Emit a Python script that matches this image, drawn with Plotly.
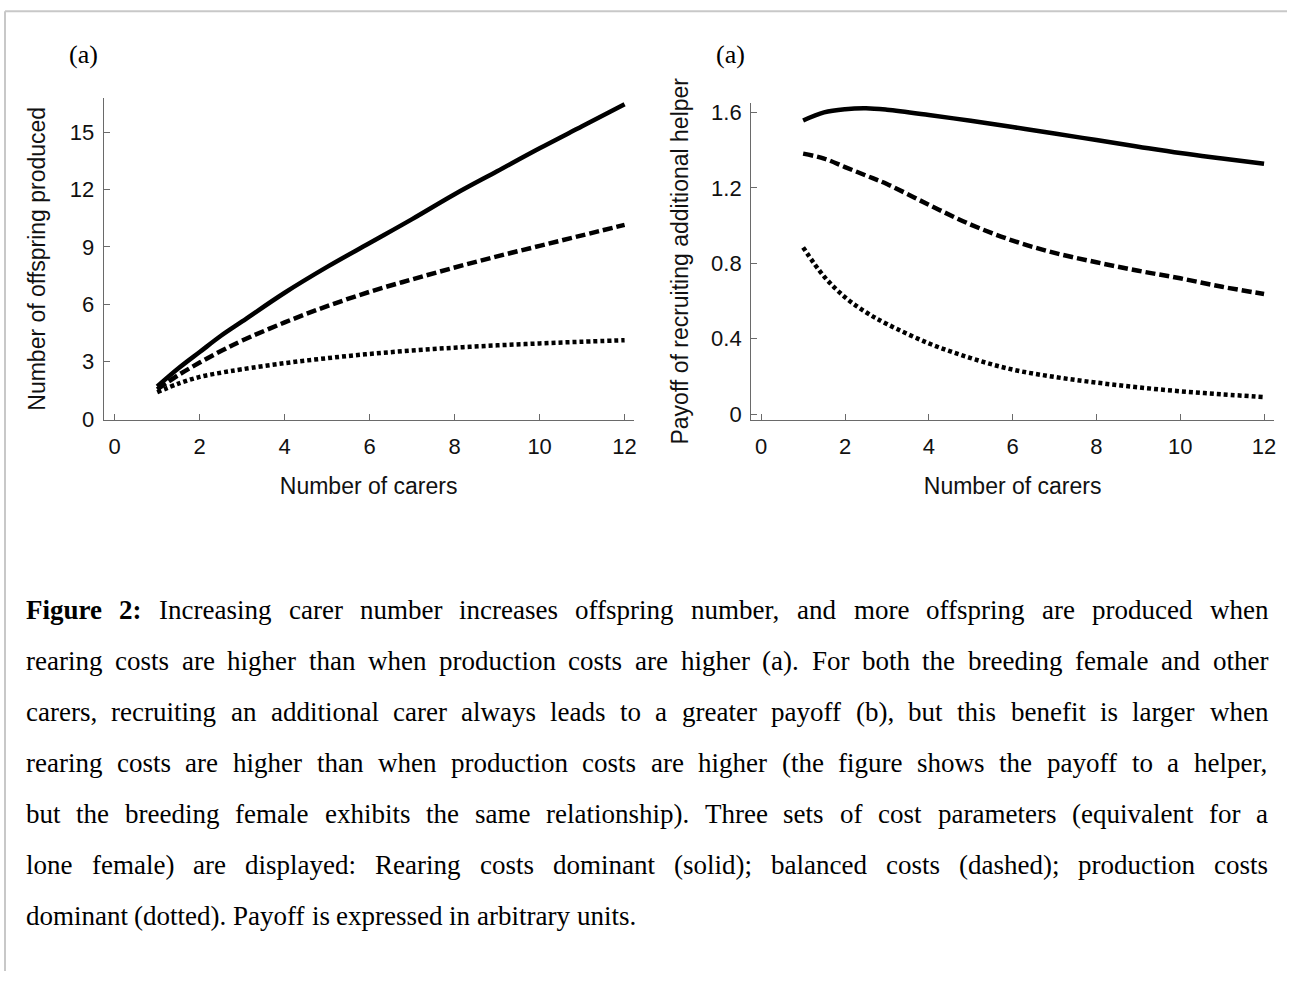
import plotly.graph_objects as go

# ---------------- data ----------------
carers = [1, 1.5, 2, 2.5, 3, 4, 5, 6, 7, 8, 9, 10, 11, 12]

offspring_rearing = [1.70, 2.65, 3.5, 4.35, 5.1, 6.6, 7.95, 9.2, 10.45, 11.75, 12.95, 14.15, 15.3, 16.45]
offspring_balanced = [1.55, 2.3, 2.95, 3.55, 4.1, 5.05, 5.9, 6.65, 7.3, 7.92, 8.5, 9.05, 9.6, 10.15]
offspring_production = [1.4, 1.85, 2.2, 2.42, 2.6, 2.92, 3.18, 3.4, 3.58, 3.73, 3.85, 3.95, 4.04, 4.12]

payoff_rearing = [1.557, 1.60, 1.617, 1.622, 1.614, 1.586, 1.555, 1.522, 1.488, 1.453, 1.418, 1.384, 1.355, 1.327]
payoff_balanced = [1.381, 1.355, 1.31, 1.265, 1.22, 1.11, 1.005, 0.92, 0.855, 0.805, 0.76, 0.72, 0.675, 0.637]
payoff_production = [0.884, 0.73, 0.62, 0.54, 0.478, 0.375, 0.297, 0.236, 0.197, 0.167, 0.142, 0.121, 0.105, 0.09]

x_ticks = [0, 2, 4, 6, 8, 10, 12]
left_y_ticks = [0, 3, 6, 9, 12, 15]
right_y_ticks = [0, 0.4, 0.8, 1.2, 1.6]
right_y_labels = ["0", "0.4", "0.8", "1.2", "1.6"]

panel_labels = ["(a)", "(a)"]
x_title = "Number of carers"
left_y_title = "Number of offspring produced"
right_y_title = "Payoff of recruiting additional helper"

caption_bold = "Figure 2:"
caption_lines = [
    "Figure 2: Increasing carer number increases offspring number, and more offspring are produced when",
    "rearing costs are higher than when production costs are higher (a). For both the breeding female and other",
    "carers, recruiting an additional carer always leads to a greater payoff (b), but this benefit is larger when",
    "rearing costs are higher than when production costs are higher (the figure shows the payoff to a helper,",
    "but the breeding female exhibits the same relationship). Three sets of cost parameters (equivalent for a",
    "lone female) are displayed: Rearing costs dominant (solid); balanced costs (dashed); production costs",
    "dominant (dotted). Payoff is expressed in arbitrary units.",
]

# ---------------- layout constants ----------------
W, H = 1290, 983
def px(x):
    return x / W
def py(y):
    return 1 - y / H

SANS = "Liberation Sans, Arial, sans-serif"
SERIF = "Liberation Serif, Times New Roman, serif"
AXIS_COLOR = "#6a6a6a"

fig = go.Figure()

styles = [dict(dash="solid"), dict(dash="10px,4px"), dict(dash="4px,3px")]
left_series = [offspring_rearing, offspring_balanced, offspring_production]
right_series = [payoff_rearing, payoff_balanced, payoff_production]
for ys, st in zip(left_series, styles):
    fig.add_trace(go.Scatter(x=carers, y=ys, mode="lines", xaxis="x", yaxis="y",
                             line=dict(color="black", width=4.5, shape="spline", smoothing=1.0, **st),
                             showlegend=False, hoverinfo="skip"))
for ys, st in zip(right_series, styles):
    fig.add_trace(go.Scatter(x=carers, y=ys, mode="lines", xaxis="x2", yaxis="y2",
                             line=dict(color="black", width=4.5, shape="spline", smoothing=1.0, **st),
                             showlegend=False, hoverinfo="skip"))

common_axis = dict(showline=True, linecolor=AXIS_COLOR, linewidth=1.3, showgrid=False, zeroline=False,
                   ticks="inside", ticklen=6, tickwidth=1, tickcolor=AXIS_COLOR,
                   tickfont=dict(family=SANS, size=22, color="#111"), mirror=False)

fig.update_layout(
    width=W, height=H,
    margin=dict(l=0, r=0, t=0, b=0),
    paper_bgcolor="white", plot_bgcolor="white",
    xaxis=dict(domain=[px(104), px(635)], range=[-0.258, 12.21], tickvals=x_ticks,
               anchor="y", ticklabelstandoff=6,
               title=dict(text=x_title, font=dict(family=SANS, size=23, color="#111"), standoff=20),
               **common_axis),
    yaxis=dict(domain=[py(424), py(97)], range=[-0.05, 16.8], tickvals=left_y_ticks,
               anchor="x", ticklabelstandoff=4,
               title=dict(text=left_y_title, font=dict(family=SANS, size=23, color="#111"), standoff=17),
               **common_axis),
    xaxis2=dict(domain=[px(753), px(1277)], range=[-0.238, 12.238], tickvals=x_ticks,
                anchor="y2", ticklabelstandoff=6,
                title=dict(text=x_title, font=dict(family=SANS, size=23, color="#111"), standoff=20),
                **common_axis),
    yaxis2=dict(domain=[py(424), py(102)], range=[-0.031, 1.652], tickvals=right_y_ticks,
                ticktext=right_y_labels, anchor="x2", ticklabelstandoff=4,
                title=dict(text=right_y_title, font=dict(family=SANS, size=23, color="#111"), standoff=16),
                **common_axis),
)

# panel labels
for lab, cx in zip(panel_labels, [84, 732]):
    fig.add_annotation(x=px(cx), y=py(53), xref="paper", yref="paper", text=lab, showarrow=False,
                       xanchor="center", yanchor="middle", font=dict(family=SERIF, size=26, color="black"))

# page border (light grey, top and left)
fig.add_shape(type="line", xref="paper", yref="paper", x0=px(5), x1=1, y0=py(9.5), y1=py(9.5),
              line=dict(color="#c8c8c8", width=2))
fig.add_shape(type="line", xref="paper", yref="paper", x0=px(5), x1=px(5), y0=py(9.5), y1=0,
              line=dict(color="#c8c8c8", width=2))

# ---------------- justified caption ----------------
REG = {" ": 250, "(": 333, ")": 333, ",": 250, ".": 250, ":": 278, ";": 278, "-": 333, "2": 500,
       "F": 556, "I": 333, "P": 556, "R": 667, "T": 611,
       "a": 444, "b": 500, "c": 444, "d": 500, "e": 444, "f": 333, "g": 500, "h": 500, "i": 278,
       "j": 278, "k": 500, "l": 278, "m": 778, "n": 500, "o": 500, "p": 500, "q": 500, "r": 333,
       "s": 389, "t": 278, "u": 500, "v": 500, "w": 722, "x": 500, "y": 500, "z": 444}
BOLD = {"F": 611, "i": 278, "g": 500, "u": 556, "r": 444, "e": 444, "2": 500, ":": 333, " ": 250}

CAP_SIZE = 27
CAP_LEFT, CAP_RIGHT = 25, 1270
CAP_TOP, CAP_STEP = 617, 51.7

def word_width(w, bold=False):
    table = BOLD if bold else REG
    return sum(table.get(ch, 500) for ch in w) * CAP_SIZE / 1000.0

bold_words = caption_bold.split(" ")
for i, line in enumerate(caption_lines):
    words = line.split(" ")
    flags = [False] * len(words)
    if i == 0:
        for k in range(len(bold_words)):
            flags[k] = True
    widths = [word_width(w, b) for w, b in zip(words, flags)]
    if i < len(caption_lines) - 1:
        gap = (CAP_RIGHT - CAP_LEFT - sum(widths)) / (len(words) - 1)
    else:
        gap = REG[" "] * CAP_SIZE / 1000.0
    xcur = CAP_LEFT
    yc = CAP_TOP + i * CAP_STEP
    for w, b, wd in zip(words, flags, widths):
        fig.add_annotation(x=px(xcur), y=py(yc), xref="paper", yref="paper",
                           text=f"<b>{w}</b>" if b else w, showarrow=False,
                           xanchor="left", yanchor="middle", borderpad=0,
                           font=dict(family=SERIF, size=CAP_SIZE, color="black"))
        xcur += wd + gap

fig.write_html("out.html", config={"displayModeBar": False},
               post_script="document.body.style.margin='0';document.body.style.overflow='hidden';")
